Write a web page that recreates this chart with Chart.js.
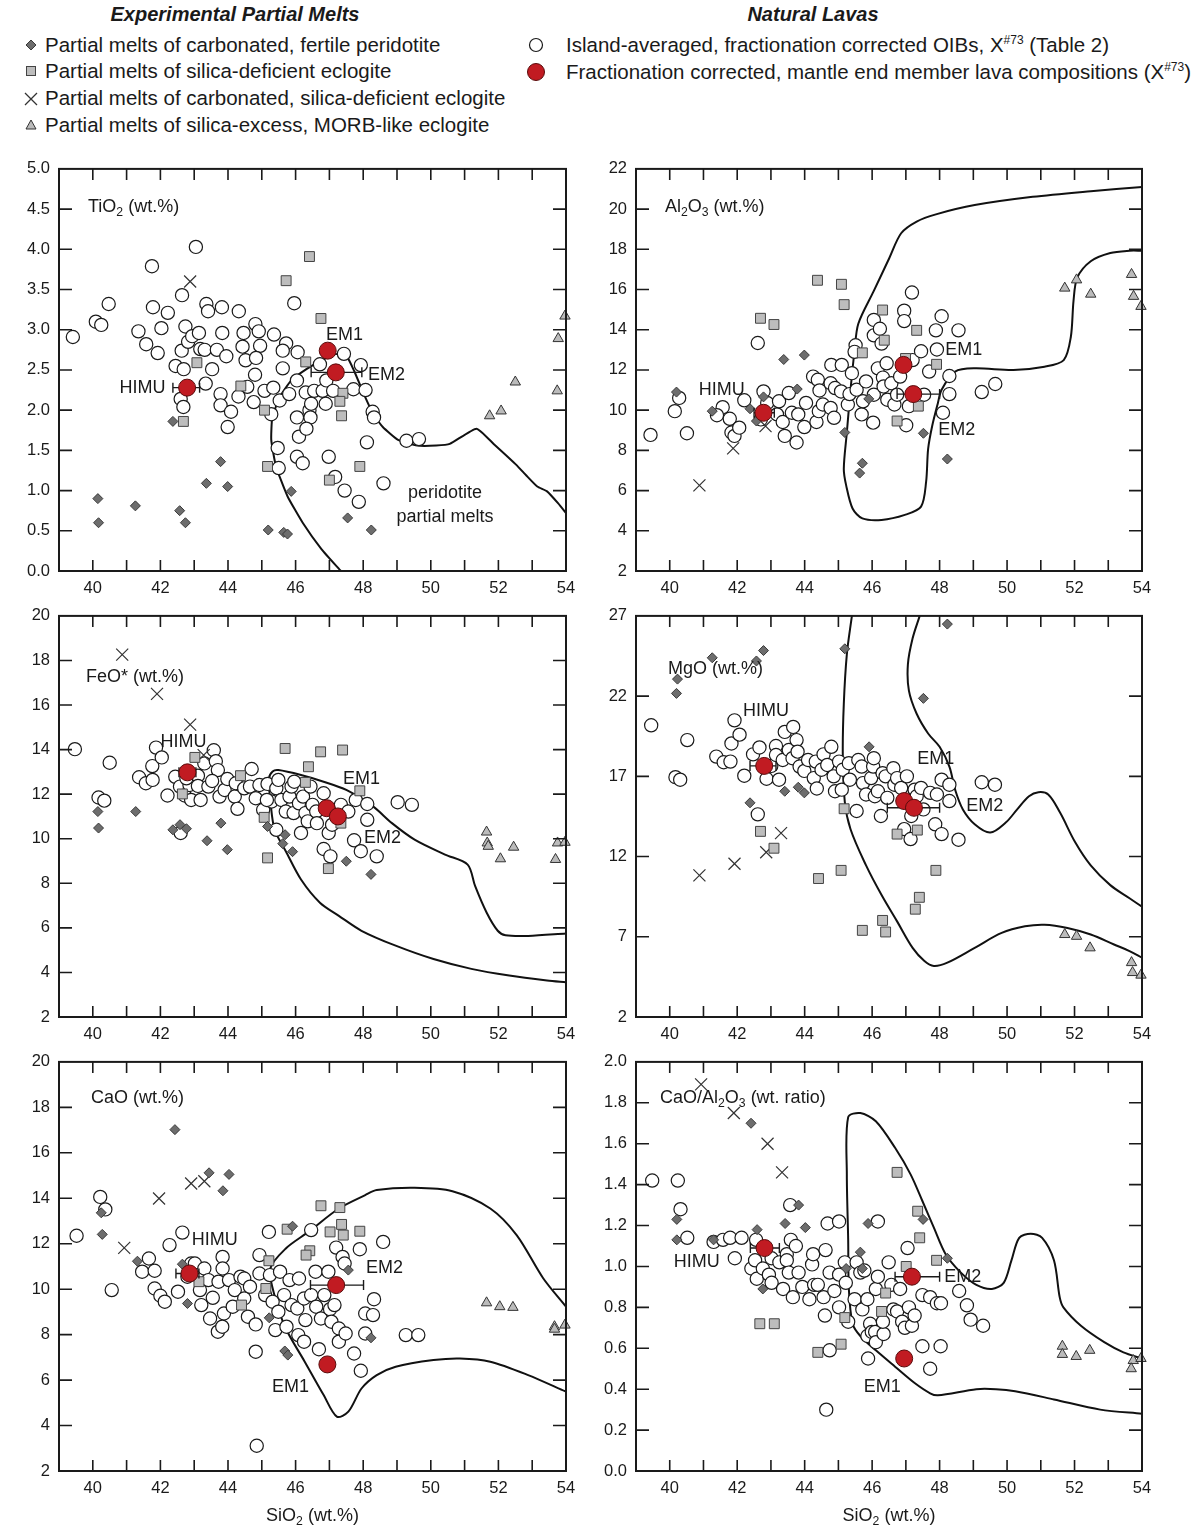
<!DOCTYPE html>
<html lang="en">
<head>
<meta charset="UTF-8">
<title>OIB compositions vs experimental partial melts</title>
<script src="https://cdn.jsdelivr.net/npm/chart.js@4"></script>
<style>
  body { margin:0; background:#fff; width:1195px; height:1529px; position:relative; overflow:hidden;
         font-family:"Liberation Sans", Arial, sans-serif; color:#1a1a1a; }
  canvas { position:absolute; }
  .head { position:absolute; top:3px; font-size:20px; font-weight:bold; font-style:italic;
          transform:translateX(-50%); white-space:nowrap; }
  .item { position:absolute; font-size:20.5px; line-height:24px; white-space:nowrap; }
  .item sup { font-size:12px; line-height:0; vertical-align:8px; }
  .mk { position:absolute; }
</style>
</head>
<body>
<div class="head" style="left:235px">Experimental Partial Melts</div>
<div class="head" style="left:813px">Natural Lavas</div>

<svg class="mk" style="left:24px;top:38px" width="14" height="14"><path d="M7 2L12 7L7 12L2 7Z" fill="#6d6d6d" stroke="#3a3a3a"/></svg>
<div class="item" style="left:45px;top:33px">Partial melts of carbonated, fertile peridotite</div>
<svg class="mk" style="left:24px;top:64px" width="14" height="14"><rect x="2.5" y="2.5" width="9" height="9" fill="#bdbdbd" stroke="#444"/></svg>
<div class="item" style="left:45px;top:59px">Partial melts of silica-deficient eclogite</div>
<svg class="mk" style="left:22px;top:90px" width="18" height="18"><path d="M3 3L15 15M15 3L3 15" stroke="#333" stroke-width="1.3"/></svg>
<div class="item" style="left:45px;top:86px">Partial melts of carbonated, silica-deficient eclogite</div>
<svg class="mk" style="left:23px;top:117px" width="16" height="16"><path d="M8 3L13 12L3 12Z" fill="#bbb" stroke="#333"/></svg>
<div class="item" style="left:45px;top:113px">Partial melts of silica-excess, MORB-like eclogite</div>

<svg class="mk" style="left:527px;top:36px" width="18" height="18"><circle cx="9" cy="9" r="6.5" fill="#fff" stroke="#1a1a1a" stroke-width="1.2"/></svg>
<div class="item" style="left:566px;top:33px">Island-averaged, fractionation corrected OIBs, X<sup>#73</sup> (Table 2)</div>
<svg class="mk" style="left:525px;top:61px" width="22" height="22"><circle cx="11" cy="11" r="8.5" fill="#c11b22" stroke="#5a0c0c" stroke-width="1"/></svg>
<div class="item" style="left:566px;top:60px">Fractionation corrected, mantle end member lava compositions (X<sup>#73</sup>)</div>

<canvas id="tio2"></canvas>
<canvas id="al2o3"></canvas>
<canvas id="feo"></canvas>
<canvas id="mgo"></canvas>
<canvas id="cao"></canvas>
<canvas id="caoal"></canvas>

<script>
const FONT = '"Liberation Sans", Arial, sans-serif';

// ---------- TiO2 ----------
const tiPeridotite = [[42.37,1.86],[43.78,1.36],[43.36,1.09],[43.99,1.05],[40.15,0.90],[41.26,0.81],[42.57,0.75],[40.17,0.60],[42.74,0.60],[45.87,0.99],[45.19,0.51],[45.65,0.48],[45.76,0.46],[47.54,0.66],[48.24,0.51]];
const tiEclogite = [[46.41,3.91],[45.72,3.61],[46.75,3.14],[43.08,2.59],[44.38,2.30],[46.30,2.60],[47.40,2.21],[47.31,2.11],[47.36,1.93],[45.08,2.00],[42.68,1.86],[45.17,1.30],[47.90,1.30],[47.00,1.13]];
const tiCarbEclogite = [[42.88,3.60]];
const tiMorbEclogite = [[51.74,1.93],[52.08,1.99],[52.50,2.35],[53.74,2.24],[53.77,2.89],[53.97,3.17]];
const tiOIB = [[39.41,2.91],[40.09,3.10],[40.25,3.06],[40.47,3.32],[41.75,3.79],[43.05,4.03],[41.35,2.98],[41.58,2.82],[41.78,3.28],[41.92,2.71],[42.03,3.02],[42.22,3.21],[42.64,3.43],[42.45,2.55],[42.63,2.74],[42.74,3.04],[42.69,2.51],[42.82,2.85],[42.94,2.92],[43.14,2.96],[43.18,2.76],[42.60,2.14],[42.68,2.04],[43.34,2.33],[43.36,3.32],[43.41,3.23],[43.31,2.75],[43.53,2.51],[43.67,2.75],[43.82,3.28],[43.83,2.96],[43.95,2.67],[43.78,2.20],[43.78,2.06],[44.09,1.98],[43.99,1.79],[44.32,3.23],[44.46,2.96],[44.43,2.79],[44.52,2.62],[44.57,2.29],[44.31,2.17],[44.81,3.07],[44.91,2.98],[44.95,2.80],[44.83,2.65],[44.80,2.44],[44.76,2.10],[45.08,2.24],[45.36,2.94],[45.34,2.28],[45.28,1.95],[45.53,2.12],[45.72,2.83],[45.62,2.74],[45.62,2.52],[45.81,2.20],[45.96,3.33],[46.06,2.72],[46.04,2.37],[46.04,1.91],[46.10,1.67],[46.04,1.42],[46.21,1.34],[46.30,2.22],[46.41,2.00],[46.44,1.91],[46.32,1.77],[46.46,2.08],[46.55,2.24],[46.72,2.57],[46.80,2.24],[46.89,2.08],[46.91,2.37],[47.11,2.24],[46.98,1.42],[47.17,1.17],[47.45,1.00],[47.43,2.70],[47.71,2.26],[47.93,2.56],[48.07,2.25],[48.28,1.98],[48.32,1.91],[48.11,1.60],[47.87,0.86],[48.60,1.09],[49.28,1.62],[49.65,1.64],[45.47,1.53],[45.50,1.28]];
const tiEnd = [[42.79,2.28],[46.95,2.74],[47.19,2.47]];
const tiEndErr = [[42.37,43.16,2.28],[46.46,47.96,2.47]];
const tiField = [[47.34,0],[46.77,0.27],[46.21,0.60],[45.76,0.93],[45.42,1.30],[45.28,1.63],[45.31,1.91],[45.53,2.16],[45.87,2.37],[46.32,2.51],[46.77,2.62],[47.23,2.70],[47.51,2.67],[47.73,2.49],[48.02,2.20],[48.30,1.95],[48.58,1.79],[49.03,1.63],[49.60,1.56],[50.16,1.56],[50.56,1.58],[51.35,1.77],[51.86,1.58],[52.53,1.32],[52.82,1.19],[53.15,1.05],[53.44,0.99],[53.77,0.84],[54.0,0.72]];

// ---------- Al2O3 ----------
const alPeridotite = [[40.20,10.90],[41.26,9.95],[42.38,10.07],[42.57,9.46],[42.78,10.66],[43.38,12.52],[43.99,12.74],[43.78,11.05],[45.19,8.89],[45.90,10.56],[45.71,7.36],[45.63,6.87],[47.52,8.85],[48.23,7.57]];
const alEclogite = [[44.38,16.46],[45.09,16.26],[45.17,15.25],[42.69,14.57],[43.09,14.26],[46.31,14.98],[46.36,13.48],[45.71,12.85],[47.32,13.97],[46.99,12.57],[47.91,12.28],[47.37,10.20],[46.74,9.46]];
const alCarbEclogite = [[40.88,6.26],[41.88,8.10],[42.84,9.21]];
const alMorbEclogite = [[51.71,16.07],[52.06,16.48],[52.48,15.77],[53.69,16.75],[53.75,15.66],[53.97,15.16]];
const alOIB = [[39.43,8.77],[40.51,8.85],[40.15,9.95],[40.28,10.61],[41.57,10.15],[41.40,9.75],[41.78,9.57],[41.83,8.89],[41.92,8.72],[42.06,9.13],[42.21,10.49],[42.61,13.34],[42.78,10.93],[42.70,9.54],[42.89,10.36],[43.18,9.79],[43.24,10.44],[43.35,9.41],[43.41,8.72],[43.53,10.85],[43.62,9.87],[43.76,8.39],[43.81,9.79],[43.99,9.16],[44.04,10.36],[44.25,11.67],[44.39,11.51],[44.35,9.41],[44.42,9.95],[44.44,10.98],[44.54,10.28],[44.79,12.25],[44.77,11.34],[44.77,10.11],[44.87,9.62],[44.90,11.10],[45.10,12.25],[45.08,10.93],[45.28,10.28],[45.40,11.84],[45.33,10.80],[45.51,13.23],[45.48,12.90],[45.54,11.02],[45.69,9.79],[45.73,10.44],[45.82,11.43],[46.05,14.49],[46.05,13.72],[46.05,10.77],[46.03,9.38],[46.17,12.08],[46.23,14.05],[46.28,13.31],[46.32,11.62],[46.43,12.33],[46.45,10.52],[46.34,11.18],[46.57,11.34],[46.66,10.28],[46.74,10.77],[46.83,11.67],[46.95,14.95],[46.95,14.43],[47.01,9.25],[47.18,15.85],[47.09,10.20],[47.20,12.49],[47.45,12.93],[47.54,10.77],[47.69,11.92],[47.89,13.97],[47.92,13.02],[48.06,14.67],[48.10,9.87],[48.29,11.70],[48.29,10.80],[48.56,13.97],[49.25,10.90],[49.65,11.30]];
const alEnd = [[42.78,9.87],[46.93,12.25],[47.22,10.80]];
const alEndErr = [[42.5,43.1,9.87],[46.74,48.0,10.80]];
const alField = [[54.0,21.10],[52.48,20.89],[50.76,20.61],[49.04,20.20],[47.89,19.74],[47.32,19.38],[46.86,18.80],[46.51,17.57],[46.05,15.93],[45.59,14.30],[45.48,12.98],[45.36,11.02],[45.25,8.89],[45.16,7.08],[45.23,6.26],[45.42,5.11],[45.71,4.62],[46.28,4.54],[46.97,4.79],[47.45,5.20],[47.60,6.43],[47.66,8.07],[47.78,9.21],[47.95,10.36],[48.06,11.02],[48.46,11.92],[49.04,12.08],[50.19,12.0],[51.11,12.16],[51.68,12.49],[51.89,13.64],[51.97,15.44],[52.08,16.59],[52.48,17.41],[53.06,17.82],[53.63,17.93],[54.0,17.93]];

// ---------- FeO* ----------
const fePeridotite = [[40.15,11.22],[40.17,10.48],[41.27,11.22],[42.37,10.40],[42.58,10.63],[42.77,10.45],[43.38,9.91],[43.79,10.70],[43.98,9.51],[45.17,10.55],[45.69,10.18],[45.62,9.78],[45.91,9.42],[47.50,8.99],[48.23,8.40]];
const feEclogite = [[45.69,14.05],[46.74,13.90],[47.39,13.98],[46.38,13.23],[46.29,12.53],[43.02,13.65],[44.37,12.83],[42.65,12.01],[45.07,10.96],[47.90,12.15],[45.17,9.14],[46.97,8.66],[47.34,10.70]];
const feCarbEclogite = [[40.87,18.26],[41.90,16.50],[42.88,15.12],[43.28,13.75]];
const feMorbEclogite = [[51.65,10.30],[51.67,9.81],[51.70,9.66],[52.06,9.10],[52.45,9.62],[53.69,9.07],[53.75,9.81],[53.97,9.84]];
const feOIB = [[39.47,14.02],[40.50,13.41],[40.17,11.85],[40.34,11.71],[41.37,12.76],[41.57,12.49],[41.77,12.64],[41.76,13.26],[41.87,14.09],[42.04,13.65],[42.21,11.94],[42.44,12.78],[42.60,10.26],[42.58,12.34],[42.72,11.94],[42.86,12.41],[42.77,12.71],[42.91,11.74],[43.11,12.83],[43.11,12.37],[43.19,11.74],[43.30,13.38],[43.42,12.34],[43.58,13.97],[43.64,13.48],[43.70,13.08],[43.53,12.59],[43.75,11.89],[43.90,12.19],[43.98,12.68],[44.20,11.89],[44.28,11.34],[44.23,12.49],[44.48,12.26],[44.70,13.13],[44.65,12.34],[44.82,11.82],[44.93,12.41],[45.04,11.30],[45.17,12.46],[45.29,11.67],[45.15,11.74],[45.43,12.26],[45.49,12.64],[45.58,11.74],[45.43,10.40],[45.71,11.22],[45.82,11.89],[45.88,12.34],[45.96,12.56],[45.94,11.15],[46.10,11.59],[46.16,10.26],[46.22,11.89],[46.29,11.15],[46.36,10.78],[46.44,12.34],[46.50,11.52],[46.61,11.22],[46.63,10.70],[46.83,12.04],[46.83,9.54],[47.03,9.21],[46.98,10.26],[47.08,10.63],[47.34,11.52],[47.56,11.22],[47.73,9.93],[47.78,11.74],[47.93,9.44],[48.12,11.56],[48.12,10.85],[48.40,9.21],[49.02,11.64],[49.44,11.52]];
const feEnd = [[42.80,12.98],[46.92,11.37],[47.25,11.00]];
const feEndErr = [[42.55,43.05,12.98]];
const feField = [[54.0,3.56],[53.44,3.64],[52.32,3.86],[51.20,4.16],[50.08,4.60],[48.96,5.20],[47.95,5.87],[47.28,6.54],[46.72,7.13],[46.16,8.17],[45.71,9.44],[45.38,10.40],[45.26,11.60],[45.21,12.70],[45.32,13.02],[45.49,13.08],[46.16,12.86],[46.83,12.56],[47.50,12.19],[48.29,11.45],[48.85,10.70],[49.52,9.96],[50.42,9.29],[51.09,8.84],[51.31,7.88],[51.65,6.69],[51.98,5.87],[52.21,5.67],[52.88,5.64],[54.0,5.75]];

// ---------- MgO ----------
const mgPeridotite = [[48.23,26.49],[45.19,24.95],[42.78,24.84],[42.57,24.19],[41.26,24.39],[40.23,23.06],[40.20,22.17],[47.52,21.86],[45.91,18.84],[43.41,16.07],[43.81,16.32],[43.99,15.97],[42.38,15.35]];
const mgEclogite = [[45.17,14.98],[42.69,13.57],[43.09,12.52],[46.74,13.40],[47.34,13.65],[45.08,11.14],[44.41,10.63],[47.89,11.14],[47.40,9.46],[47.28,8.72],[45.71,7.40],[46.31,8.02],[46.40,7.30]];
const mgCarbEclogite = [[40.88,10.83],[41.92,11.55],[42.86,12.27],[43.30,13.46]];
const mgMorbEclogite = [[51.71,7.14],[52.06,7.03],[52.46,6.31],[53.69,5.39],[53.72,4.77],[53.97,4.61]];
const mgOIB = [[39.45,20.18],[40.52,19.26],[40.17,16.95],[40.31,16.79],[41.38,18.23],[41.60,17.88],[41.80,17.92],[41.83,19.05],[41.92,20.49],[42.07,19.60],[42.21,17.04],[42.47,18.37],[42.61,14.63],[42.66,18.80],[42.87,16.85],[43.01,17.65],[43.15,18.89],[43.15,18.33],[43.24,16.79],[43.35,18.02],[43.41,19.77],[43.53,18.64],[43.64,18.13],[43.66,20.08],[43.76,19.26],[43.79,18.54],[43.85,17.61],[43.99,17.34],[44.10,18.02],[44.27,16.89],[44.33,17.92],[44.36,16.24],[44.56,18.37],[44.50,17.41],[44.67,17.71],[44.79,18.84],[44.86,17.00],[44.90,16.07],[45.02,17.92],[45.10,16.17],[45.13,17.41],[45.31,17.82],[45.34,16.79],[45.54,14.84],[45.59,18.02],[45.69,17.61],[45.73,16.58],[45.82,15.87],[45.97,16.89],[46.03,17.61],[46.05,18.13],[46.08,15.76],[46.17,16.07],[46.26,14.53],[46.31,17.20],[46.40,17.00],[46.45,15.66],[46.63,17.51],[46.66,16.48],[46.74,16.89],[46.86,16.28],[46.95,13.71],[47.03,17.00],[47.14,13.09],[47.16,14.53],[47.26,16.17],[47.32,15.76],[47.45,16.28],[47.52,14.94],[47.72,15.97],[47.87,14.01],[47.92,15.87],[48.06,16.79],[48.06,13.40],[48.29,16.48],[48.29,15.46],[48.56,13.05],[49.25,16.63],[49.64,16.48]];
const mgEnd = [[42.80,17.65],[46.95,15.46],[47.24,15.04]];
const mgEndErr = [[42.38,43.15,17.65],[46.45,48.0,15.04]];
const mgFieldA = [[45.40,27],[45.25,24.6],[45.16,21.5],[45.13,18.4],[45.19,15.4],[45.36,13.7],[45.82,11.45],[46.28,9.6],[46.74,7.96],[47.20,6.31],[47.55,5.49],[47.83,5.18],[48.23,5.39],[49.04,6.31],[49.84,7.24],[50.53,7.65],[51.11,7.75],[51.79,7.55],[52.48,7.14],[53.17,6.52],[53.63,6.11],[54.0,5.70]];
const mgFieldB = [[47.41,27],[47.20,25.6],[47.06,23.98],[47.09,22.34],[47.32,20.90],[47.66,19.67],[48.0,18.84],[48.29,17.61],[48.46,16.17],[48.69,14.94],[49.04,14.02],[49.50,13.50],[49.96,14.12],[50.30,14.94],[50.65,15.76],[50.93,16.01],[51.22,15.87],[51.57,14.74],[52.02,12.89],[52.48,11.45],[53.06,10.22],[53.63,9.40],[54.0,8.88]];

// ---------- CaO ----------
const caPeridotite = [[42.43,17.02],[43.44,15.12],[44.03,15.05],[43.85,14.33],[40.25,13.36],[40.28,12.41],[41.32,11.23],[42.65,11.10],[42.80,9.37],[45.91,12.77],[47.56,10.84],[45.22,8.74],[45.68,7.28],[45.77,7.10],[48.23,7.86]];
const caEclogite = [[46.75,13.67],[47.31,13.59],[47.36,12.85],[45.75,12.64],[47.02,12.52],[47.41,12.38],[47.90,12.55],[46.42,11.69],[46.31,11.50],[45.21,11.25],[43.14,10.33],[45.12,10.03],[44.40,9.30]];
const caCarbEclogite = [[40.93,11.82],[41.96,13.99],[42.91,14.65],[43.30,14.75]];
const caMorbEclogite = [[51.65,9.40],[52.04,9.23],[52.43,9.20],[53.66,8.35],[53.66,8.24],[53.97,8.42]];
const caOIB = [[39.52,12.35],[40.22,14.06],[40.37,13.51],[40.56,9.96],[41.46,10.77],[41.66,11.35],[41.83,10.81],[41.83,10.03],[42.00,9.71],[42.13,9.45],[42.27,11.94],[42.52,9.89],[42.65,12.49],[42.80,10.55],[42.91,11.13],[43.02,11.13],[43.08,10.62],[43.17,9.96],[43.21,9.30],[43.30,10.91],[43.42,10.40],[43.47,8.71],[43.55,9.62],[43.70,8.13],[43.72,10.33],[43.84,11.42],[43.84,10.91],[43.88,8.93],[43.83,8.35],[44.03,10.40],[44.14,9.23],[44.20,9.96],[44.37,10.55],[44.48,10.47],[44.48,9.59],[44.59,8.79],[44.65,10.11],[44.82,8.45],[44.82,7.25],[44.93,11.50],[44.93,10.69],[45.10,9.74],[45.21,12.52],[45.24,10.62],[45.32,9.45],[45.40,8.20],[45.49,9.01],[45.54,10.77],[45.66,9.74],[45.73,8.35],[45.82,10.40],[45.88,9.30],[46.05,9.15],[46.10,10.47],[46.08,7.98],[46.25,7.69],[46.25,9.59],[46.29,8.64],[46.46,12.60],[46.46,9.74],[46.59,10.77],[46.61,9.23],[46.69,7.36],[46.75,8.71],[46.85,9.74],[46.97,10.77],[47.02,9.12],[47.06,8.57],[47.15,9.30],[47.20,11.83],[47.28,8.27],[47.28,7.69],[47.39,11.42],[47.45,11.13],[47.48,8.05],[47.73,7.17],[47.90,11.76],[47.93,6.41],[48.06,8.93],[48.06,8.05],[48.32,9.56],[48.29,8.86],[48.59,12.08],[49.26,7.98],[49.63,7.98],[44.85,3.11]];
const caEnd = [[42.86,10.69],[46.94,6.69],[47.20,10.18]];
const caEndErr = [[42.46,43.14,10.69],[46.44,48.01,10.18]];
const caField = [[54.0,9.23],[53.33,10.47],[52.54,12.38],[51.76,13.55],[50.64,14.31],[49.52,14.46],[48.40,14.36],[48.06,14.14],[47.28,13.55],[46.38,12.52],[45.71,11.79],[45.25,10.90],[45.40,9.60],[45.71,8.27],[46.27,6.81],[46.83,5.34],[47.22,4.39],[47.56,4.61],[47.95,5.63],[48.40,6.22],[48.96,6.59],[50.08,6.88],[50.86,6.95],[51.76,6.81],[52.88,6.22],[54.0,5.49]];

// ---------- CaO/Al2O3 ----------
const crPeridotite = [[42.41,1.70],[40.21,1.23],[40.21,1.13],[41.30,1.13],[42.59,1.18],[43.42,1.21],[43.82,1.30],[44.02,1.19],[45.88,1.21],[47.51,1.23],[42.76,0.89],[45.65,1.07],[45.23,0.99],[48.23,1.04],[45.71,0.99]];
const crEclogite = [[46.74,1.46],[47.35,1.27],[47.41,1.14],[47.91,1.03],[47.01,1.00],[46.40,0.87],[46.28,0.78],[45.19,0.75],[45.08,0.62],[44.39,0.58],[42.67,0.72],[43.10,0.72]];
const crCarbEclogite = [[40.93,1.89],[41.90,1.75],[42.90,1.60],[43.33,1.46]];
const crMorbEclogite = [[51.64,0.61],[51.64,0.57],[52.05,0.56],[52.45,0.59],[53.74,0.54],[53.68,0.50],[53.97,0.55]];
const crOIB = [[39.48,1.42],[40.24,1.42],[40.32,1.28],[40.52,1.14],[41.30,1.12],[41.58,1.13],[41.79,1.14],[41.93,1.04],[42.13,1.14],[42.42,0.99],[42.53,1.03],[42.56,1.13],[42.58,0.94],[42.76,0.99],[42.94,0.96],[43.02,1.04],[43.02,0.92],[43.25,1.02],[43.36,0.89],[43.47,1.06],[43.47,1.03],[43.53,0.97],[43.57,1.30],[43.59,1.13],[43.65,0.85],[43.74,1.10],[43.82,0.97],[43.93,0.90],[44.14,0.84],[44.22,1.01],[44.25,1.06],[44.28,0.91],[44.39,0.91],[44.56,0.85],[44.62,1.08],[44.60,0.76],[44.68,1.21],[44.74,0.59],[44.74,0.97],[44.88,0.88],[45.02,1.22],[45.02,0.96],[45.02,0.80],[45.19,1.02],[45.22,0.92],[45.29,0.73],[45.48,0.84],[45.54,1.02],[45.65,0.97],[45.71,0.79],[45.77,0.98],[45.86,0.84],[45.86,0.66],[45.88,0.55],[45.94,0.72],[45.99,0.68],[46.09,0.68],[46.11,0.63],[46.11,0.89],[46.17,1.22],[46.17,0.95],[46.34,0.67],[46.32,0.73],[46.49,1.02],[46.57,0.91],[46.63,0.79],[46.74,0.78],[46.83,0.89],[46.89,0.73],[46.97,0.70],[47.05,1.09],[47.09,0.80],[47.18,0.71],[47.26,0.76],[47.49,0.86],[47.49,0.61],[47.72,0.85],[47.72,0.50],[47.92,0.82],[48.04,0.82],[48.03,0.61],[48.58,0.88],[48.81,0.81],[48.92,0.74],[49.29,0.71],[44.64,0.30]];
const crEnd = [[42.81,1.09],[46.95,0.55],[47.18,0.95]];
const crEndErr = [[42.39,43.25,1.09],[46.68,48.0,0.95]];
const crField = [[54.0,0.55],[53.45,0.58],[52.88,0.63],[52.19,0.71],[51.67,0.80],[51.56,0.85],[51.39,1.03],[51.04,1.14],[50.70,1.16],[50.36,1.14],[50.13,1.03],[49.90,0.92],[49.55,0.89],[49.09,0.91],[48.63,0.97],[48.18,1.06],[47.83,1.19],[47.49,1.32],[47.14,1.45],[46.68,1.58],[46.11,1.71],[45.65,1.75],[45.29,1.73],[45.25,1.45],[45.29,1.13],[45.31,0.89],[45.42,0.72],[45.65,0.66],[46.11,0.59],[46.68,0.51],[47.26,0.43],[47.72,0.38],[47.95,0.37],[49.09,0.40],[49.67,0.40],[50.24,0.39],[51.39,0.35],[52.76,0.30],[54.0,0.28]];

const pts = a => a.map(([x, y]) => ({x, y}));

// draw a label made of normal / sub / sup pieces
function richText(ctx, parts, x, y, size, align) {
  const fontFor = m => (m ? size * 0.68 : size) + 'px ' + FONT;
  let w = 0;
  parts.forEach(([t, m]) => { ctx.font = fontFor(m); w += ctx.measureText(t).width; });
  let cx = align === 'center' ? x - w / 2 : align === 'right' ? x - w : x;
  ctx.textAlign = 'left';
  ctx.textBaseline = 'middle';
  parts.forEach(([t, m]) => {
    ctx.font = fontFor(m);
    const dy = m === 'sub' ? size * 0.32 : m === 'sup' ? -size * 0.4 : 0;
    ctx.fillText(t, cx, y + dy);
    cx += ctx.measureText(t).width;
  });
}

function decorations(p) {
  return {
    id: 'deco',
    beforeDatasetDraw(chart, args) {
      if (args.index !== 0) return;
      const {ctx, scales: {x, y}} = chart;
      ctx.save();
      ctx.strokeStyle = '#1a1a1a';
      ctx.lineWidth = 1.4;
      ctx.beginPath();
      p.err.forEach(([lo, hi, v]) => {
        const py = y.getPixelForValue(v), a = x.getPixelForValue(lo), b = x.getPixelForValue(hi);
        ctx.moveTo(a, py); ctx.lineTo(b, py);
        ctx.moveTo(a, py - 5); ctx.lineTo(a, py + 5);
        ctx.moveTo(b, py - 5); ctx.lineTo(b, py + 5);
      });
      ctx.stroke();
      ctx.restore();
    },
    afterDraw(chart) {
      const {ctx, chartArea: a, scales: {x, y}} = chart;
      ctx.save();
      ctx.strokeStyle = '#1a1a1a';
      ctx.lineWidth = 1.6;
      ctx.beginPath();
      x.ticks.forEach(t => {
        const px = x.getPixelForValue(t.value);
        if (px < a.left + 2 || px > a.right - 2) return;
        ctx.moveTo(px, a.bottom); ctx.lineTo(px, a.bottom - 11);
        ctx.moveTo(px, a.top); ctx.lineTo(px, a.top + 11);
      });
      y.ticks.forEach(t => {
        const py = y.getPixelForValue(t.value);
        if (py < a.top + 2 || py > a.bottom - 2) return;
        ctx.moveTo(a.left, py); ctx.lineTo(a.left + 13, py);
        ctx.moveTo(a.right, py); ctx.lineTo(a.right - 13, py);
      });
      ctx.stroke();
      ctx.lineWidth = 2;
      ctx.strokeRect(a.left, a.top, a.width, a.height);

      ctx.fillStyle = '#1a1a1a';
      richText(ctx, p.title, a.left + p.titlePos[0], a.top + p.titlePos[1], 18, 'left');
      p.notes.forEach(([txt, vx, vy, align]) => {
        richText(ctx, [[txt, '']], x.getPixelForValue(vx), y.getPixelForValue(vy), 18, align || 'left');
      });
      if (p.xTitle) {
        richText(ctx, [['SiO', ''], ['2', 'sub'], [' (wt.%)', '']], (a.left + a.right) / 2, a.bottom + 45, 18, 'center');
      }
      ctx.restore();
    }
  };
}

function makePanel(p) {
  const cv = document.getElementById(p.id);
  cv.width = p.w; cv.height = p.h;
  cv.style.left = p.left + 'px'; cv.style.top = p.top + 'px';
  cv.style.width = p.w + 'px'; cv.style.height = p.h + 'px';

  const marker = (data, style, radius, bg, border, bw) => ({
    data: pts(data), pointStyle: style, pointRadius: radius, pointBackgroundColor: bg,
    pointBorderColor: border, pointBorderWidth: bw, showLine: false, clip: false
  });
  const datasets = [
    marker(p.end, 'circle', 8.5, '#c11b22', '#5a0c0c', 1),
    marker(p.perid, 'rectRot', 5, '#6d6d6d', '#3a3a3a', 1),
    marker(p.eclog, 'rect', 7, '#bdbdbd', '#444', 1),
    marker(p.carb, 'crossRot', 8.5, '#333', '#333', 1.2),
    marker(p.morb, 'triangle', 6, '#bbbbbb', '#333', 1),
    marker(p.oib, 'circle', 6.6, '#ffffff', '#1a1a1a', 1.2)
  ];
  p.fields.forEach(f => datasets.push({
    data: pts(f), showLine: true, pointRadius: 0, borderColor: '#111', borderWidth: 2,
    tension: p.tension, fill: false
  }));

  new Chart(cv, {
    type: 'scatter',
    data: {datasets},
    options: {
      responsive: false,
      animation: false,
      events: [],
      layout: {padding: {top: p.padTop, right: p.padRight, left: 0, bottom: 0}},
      plugins: {legend: {display: false}, tooltip: {enabled: false}},
      scales: {
        x: {
          type: 'linear', min: 39, max: 54,
          grid: {display: false, drawTicks: false}, border: {display: false},
          afterFit: s => { s.height = p.xH; },
          ticks: {stepSize: 1, autoSkip: false, maxRotation: 0, padding: 8, color: '#1a1a1a',
                  font: {family: FONT, size: 16.5},
                  callback: v => (v % 2 === 0 ? v : '')}
        },
        y: {
          type: 'linear', min: p.ymin, max: p.ymax,
          grid: {display: false, drawTicks: false}, border: {display: false},
          afterFit: s => { s.width = p.yW; },
          ticks: {stepSize: p.step, autoSkip: false, padding: 9, color: '#1a1a1a',
                  font: {family: FONT, size: 16.5},
                  callback: v => v.toFixed(p.dec)}
        }
      }
    },
    plugins: [decorations(p)]
  });
}

const leftCol = {left: 0, w: 590, yW: 59, padRight: 24};
const rightCol = {left: 590, w: 605, yW: 46, padRight: 53};
const row1 = {top: 150, h: 450, padTop: 17, xH: 29};
const row2 = {top: 597, h: 448, padTop: 15, xH: 28};
const row3 = {top: 1043, h: 486, padTop: 17, xH: 58, xTitle: true};

makePanel(Object.assign({id: 'tio2', ymin: 0, ymax: 5, step: 0.5, dec: 1, tension: 0.15,
  perid: tiPeridotite, eclog: tiEclogite, carb: tiCarbEclogite, morb: tiMorbEclogite, oib: tiOIB,
  end: tiEnd, err: tiEndErr, fields: [tiField],
  title: [['TiO', ''], ['2', 'sub'], [' (wt.%)', '']], titlePos: [29, 38],
  notes: [['HIMU', 42.15, 2.28, 'right'], ['EM1', 46.9, 2.93], ['EM2', 48.14, 2.44],
          ['peridotite', 50.42, 0.97, 'center'], ['partial melts', 50.42, 0.67, 'center']]
}, leftCol, row1));

makePanel(Object.assign({id: 'al2o3', ymin: 2, ymax: 22, step: 2, dec: 0, tension: 0.3,
  perid: alPeridotite, eclog: alEclogite, carb: alCarbEclogite, morb: alMorbEclogite, oib: alOIB,
  end: alEnd, err: alEndErr, fields: [alField],
  title: [['Al', ''], ['2', 'sub'], ['O', ''], ['3', 'sub'], [' (wt.%)', '']], titlePos: [29, 38],
  notes: [['HIMU', 40.86, 11.0], ['EM1', 48.17, 13.0], ['EM2', 47.96, 9.0]]
}, rightCol, row1));

makePanel(Object.assign({id: 'feo', ymin: 2, ymax: 20, step: 2, dec: 0, tension: 0.3,
  perid: fePeridotite, eclog: feEclogite, carb: feCarbEclogite, morb: feMorbEclogite, oib: feOIB,
  end: feEnd, err: feEndErr, fields: [feField],
  title: [['FeO* (wt.%)', '']], titlePos: [27, 61],
  notes: [['HIMU', 42.0, 14.34], ['EM1', 47.4, 12.7], ['EM2', 48.02, 10.02]]
}, leftCol, row2));

makePanel(Object.assign({id: 'mgo', ymin: 2, ymax: 27, step: 5, dec: 0, tension: 0.35,
  perid: mgPeridotite, eclog: mgEclogite, carb: mgCarbEclogite, morb: mgMorbEclogite, oib: mgOIB,
  end: mgEnd, err: mgEndErr, fields: [mgFieldA, mgFieldB],
  title: [['MgO (wt.%)', '']], titlePos: [32, 53],
  notes: [['HIMU', 42.17, 21.1], ['EM1', 47.34, 18.1], ['EM2', 48.79, 15.14]]
}, rightCol, row2));

makePanel(Object.assign({id: 'cao', ymin: 2, ymax: 20, step: 2, dec: 0, tension: 0.3,
  perid: caPeridotite, eclog: caEclogite, carb: caCarbEclogite, morb: caMorbEclogite, oib: caOIB,
  end: caEnd, err: caEndErr, fields: [caField],
  title: [['CaO (wt.%)', '']], titlePos: [32, 36],
  notes: [['HIMU', 42.93, 12.18], ['EM2', 48.08, 10.91], ['EM1', 45.3, 5.69]]
}, leftCol, row3));

makePanel(Object.assign({id: 'caoal', ymin: 0, ymax: 2, step: 0.2, dec: 1, tension: 0.3,
  perid: crPeridotite, eclog: crEclogite, carb: crCarbEclogite, morb: crMorbEclogite, oib: crOIB,
  end: crEnd, err: crEndErr, fields: [crField],
  title: [['CaO/Al', ''], ['2', 'sub'], ['O', ''], ['3', 'sub'], [' (wt. ratio)', '']], titlePos: [24, 36],
  notes: [['HIMU', 40.12, 1.02], ['EM2', 48.14, 0.95], ['EM1', 45.75, 0.41]]
}, rightCol, row3));
</script>
</body>
</html>
